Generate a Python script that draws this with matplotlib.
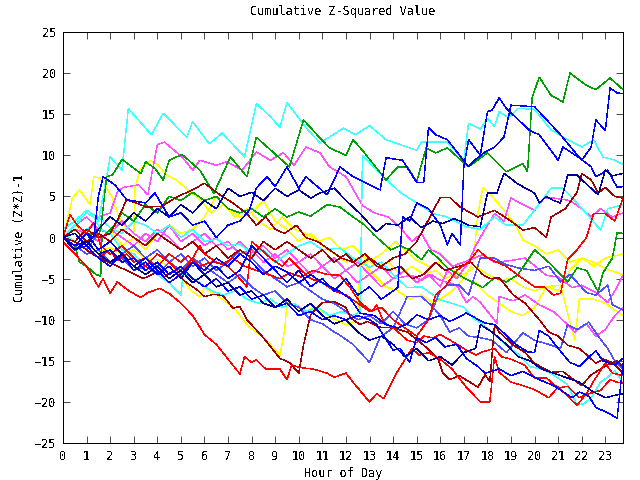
import matplotlib
matplotlib.use("Agg")
import matplotlib.pyplot as plt

# ---- data: (hour, cumulative value) ----
green_top = [(0,0),(0.5,-1),(1,0.5),(1.5,0.2),(1.6,1),(1.85,7.4),(2.1,7.6),(2.5,9.5),(3.3,7.8),(3.5,9.2),(3.9,8.4),(4.25,7),(4.5,9.4),(5.05,10.1),(5.8,8.2),(6.4,5.4),(7.1,9.8),(7.8,7.4),(8.2,12.2),(9.6,8.6),(10.2,14.3),(10.9,12.1),(11.3,10.9),(12,10),(12.3,11.9),(12.7,10.6),(13.7,7),(14.2,8.6),(14.6,8.6),(15,6.8),(15.4,10.9),(15.8,10.3),(16.3,10.9),(17.2,8.6),(18,10.3),(18.8,8),(19.5,9),(19.7,8),(19.9,17.1),(20.2,19.5),(20.7,17.3),(21.2,16.5),(21.5,20),(22.2,18.5),(22.6,18),(23.2,19.4),(23.75,18)]
cyan_top = [(0,0.5),(0.5,-0.5),(1,1),(1.5,2),(1.7,5),(2,9.8),(2.5,8.2),(2.77,15.7),(3.75,12.5),(4.25,15.1),(5.25,12.2),(5.5,14.1),(6.2,11.4),(6.75,12.7),(7.7,9.8),(8.2,16.3),(8.8,14.7),(9.2,13.4),(9.5,16.4),(10.3,13.4),(10.9,11.5),(11.9,13.3),(12.4,12.5),(13,13.6),(13.7,11.9),(14.2,11.4),(15,10.6),(15.2,11.6),(16.3,11.6),(17,9.4),(17.2,13.9),(17.7,13.2),(18,14.5),(18.3,13.5),(18.5,15.3),(18.9,14.6),(19.3,15.7),(20,15.6),(20.7,13.1),(21.4,11.9),(22,11),(22.5,11.9),(22.9,9.8),(23.3,9.5),(23.75,8.9)]
navy_top = [(0,0),(0.5,-1),(1,0.5),(1.3,0),(1.5,5),(1.7,7.4),(2.2,6.4),(2.7,4.6),(3.5,4.2),(3.9,5.4),(4.5,2.5),(5,3),(5.5,1.5),(6,2),(6.5,0),(7,1.5),(7.5,2),(7.9,3.3),(8.2,6),(8.65,7.4),(9,6.2),(9.5,8.6),(10,6),(10.3,7.4),(11.2,5.2),(11.75,8.6),(12.3,7.4),(13.45,5.8),(13.7,9.7),(14.4,9.4),(15,6.7),(15.3,6.7),(15.5,13.4),(15.8,12.5),(16.3,11.9),(17.2,8.6),(17.5,9.5),(17.9,10.4),(18.3,11),(18.7,12.2),(19,16.1),(20,15.9),(21.1,12.5),(22,9.4),(22.4,11),(22.6,14.3),(23,13),(23.2,18.2),(23.5,17.6),(23.75,17.5)]
blue_a = [(0,0),(0.5,-1.5),(1,-1),(1.5,-2.5),(2,-3.5),(2.5,-2),(3,-4),(3.5,-3),(4,-4.5),(4.5,-3.5),(5,-5),(5.5,-3),(6,-4.5),(6.5,-3.5),(7,-5),(7.5,-4),(8,-1),(8.5,-2.5),(9,-4),(9.5,-5.5),(10,-4),(10.5,-6),(11,-5),(11.5,-6.5),(12,-5),(12.5,-7),(13,-6),(13.5,-7.5),(14.2,-6.1),(14.4,2.5),(14.7,2),(15,4.2),(15.5,3.5),(16,1.5),(16.3,-0.9),(16.5,0.5),(16.85,-0.9),(17,8.6),(17.2,11.9),(17.7,10),(18,15.3),(18.2,15.5),(18.5,17),(18.8,15.7),(19.8,13),(20.2,12.5),(21,9.4),(21.2,11),(21.9,9.7),(22.4,8.6),(22.6,7.4),(23.1,8.2),(23.5,6.1),(23.75,6.2)]
blue_b = [(0,0),(0.5,0.5),(1,-1),(1.5,1),(2,2.5),(2.5,1.5),(3,3),(3.5,2),(4,3.5),(4.5,2.5),(5,4),(5.5,3),(6,4.5),(6.5,3.5),(7,6),(7.5,5),(8,5.5),(8.5,4.5),(9,6),(9.5,5),(10,5.8),(10.5,4.8),(10.9,5.4),(11.5,6),(12,4.5),(12.6,2.9),(13.3,0.7),(13.7,1.7),(14.2,1.5),(14.7,2.5),(15.2,1.2),(15.7,2),(16.1,1.7),(16.6,2.3),(17.2,1.5),(17.7,1.3),(18,5.4),(18.4,5.4),(18.7,7.8),(19.3,6.5),(20,5.4),(20.2,4.2),(20.5,5),(20.8,4.5),(21.1,4.2),(21.4,7.6),(21.8,7.6),(22.2,6.5),(22.7,5.2),(23,8.2),(23.3,7.5),(23.75,7.8)]
blue_low = [(0,0),(0.5,-1),(1,-0.5),(1.5,-2),(2,-1.5),(2.5,-3),(3,-2.5),(3.5,-4),(4,-3),(4.5,-4.5),(5,-3.5),(5.5,-5),(6,-6),(6.5,-5),(7,-6.5),(7.5,-6),(8,-7.5),(8.5,-7),(9,-8.5),(9.5,-8),(10,-9.5),(10.5,-9),(11,-10),(11.5,-9.5),(12,-10),(12.5,-9.5),(13,-10),(13.3,-10.6),(14,-13.7),(14.3,-13.5),(14.7,-15.2),(15,-12.2),(15.4,-12.8),(15.8,-12.2),(16.2,-13.3),(16.7,-13),(17.1,-14.7),(17.6,-15.7),(17.9,-16.5),(18.5,-16),(19,-16.8),(19.5,-16.3),(20.2,-17.3),(20.8,-18),(21.6,-19.5),(21.9,-18.8),(22.3,-19.3),(22.6,-20.7),(23.1,-21.3),(23.5,-22),(23.75,-15.3)]
red_low = [(0,-0.5),(0.5,-2),(1,-3.5),(1.5,-6),(1.7,-5),(2,-6.8),(2.3,-5.4),(2.8,-6.5),(3.3,-7.3),(3.6,-6.7),(4.1,-6.2),(4.5,-6.8),(5,-8),(5.5,-9.5),(6,-11.8),(6.5,-13),(7,-14.8),(7.5,-16.6),(7.7,-14.5),(8,-15.2),(8.2,-14.9),(8.6,-16),(9.2,-16),(9.5,-17.3),(9.7,-15.5),(10,-15.8),(10.6,-16),(11.2,-16.5),(11.5,-17),(12,-16.5),(12.3,-17.6),(13,-20),(13.3,-19),(13.6,-19.6),(14.1,-16.7),(14.8,-13.5),(15.1,-14.3),(15.5,-14),(16,-14.8),(16.5,-16),(17.1,-18.2),(17.7,-20),(18.1,-20),(18.3,-14.5),(18.5,-16.4),(19,-17.6),(19.5,-18),(20,-18.5),(20.6,-19.5),(21,-18.2),(21.8,-20.4),(22.2,-19),(22.5,-17.5),(23,-15.3),(23.3,-16.5),(23.75,-16.8)]
darkred_v = [(0,0),(0.5,-0.5),(1,-1.5),(1.3,-2.1),(2,-3.1),(2.7,-4),(3.4,-5),(4,-4.2),(4.3,-4.8),(4.7,-4),(5.2,-5.4),(5.7,-6.4),(6,-7.2),(6.4,-6.9),(6.8,-7.1),(7.2,-8.6),(7.5,-8.4),(7.8,-10),(8.5,-12.2),(9.2,-14.7),(9.6,-15.2),(10,-16.5),(10.2,-13.1),(10.5,-9.4),(11,-7.9),(11.5,-7.8),(12,-8.5),(12.2,-9.8),(12.6,-10.6),(12.9,-10.2),(13.4,-10.9),(14,-11),(14.6,-11.5),(15.3,-13.1),(15.9,-14.7),(16.1,-16.4),(16.4,-17.3),(16.8,-16.8),(17.6,-18.2),(17.9,-16.7),(18.1,-17.5),(18.3,-10.6),(18.5,-11.5),(19.1,-13.1),(19.6,-14),(20,-15.3),(20.7,-16.4),(21.2,-16.3),(21.8,-17.6),(22,-18),(22.4,-16.7),(22.8,-16),(23.1,-15.5),(23.5,-15),(23.75,-15.8)]
yellow_v = [(0,0),(0.5,-1),(1,-0.5),(1.5,-1.8),(2,-1.2),(2.5,-2),(3,-1.5),(3.5,-2.5),(4,-2.7),(4.5,-3.5),(5,-4.6),(5.4,-6.4),(5.8,-7.2),(6,-6.1),(6.7,-7.4),(7.2,-8.4),(7.9,-10.9),(8.5,-12.1),(9.2,-14.3),(9.4,-11.3),(9.5,-7.9),(9.8,-8.2),(10.3,-9.1),(10.6,-8.5),(11.2,-9.4),(12,-10.6),(12.3,-10.3),(12.5,-9.1),(12.6,-3.4),(13.1,-2.7),(13.5,-2),(14.1,-0.5),(14.5,-1.5),(15,-2.8),(15.5,-3.5),(16,-3),(16.5,-4),(17,-4.5),(17.5,-3.5),(18,-4.5),(18.5,-5.2),(19,-5),(19.5,-6),(20,-6.5),(20.5,-6),(21.1,-5.8),(21.7,-12.5),(21.9,-7.5),(22.5,-7.5),(23,-8),(23.75,-9.5)]
yellow_up = [(0,0),(0.4,4.8),(0.7,5.8),(1.15,4),(1.3,7.4),(1.6,7.2),(1.9,5.8),(2.1,4.8),(2.3,3.1),(2.5,1.7),(3,0.5),(3.05,6.1),(3.3,8.4),(3.7,9.4),(4,8.9),(4.4,7.6),(4.8,7),(5.3,5.8),(5.8,4.6),(6.3,3),(6.8,4),(7.3,2.5),(7.8,3.5),(8.3,2),(8.8,1),(9.3,2.5),(9.8,1),(10.3,0.5),(10.8,-0.5),(11.3,0),(11.8,-1.5),(12.3,-1),(12.8,-2.5),(13.3,-3.5),(13.8,-3),(14.3,-4.5),(14.8,-3.5),(15.3,-4.5),(15.8,-4),(16.2,-5),(16.5,-4.5),(17,-5),(17.4,-3),(17.6,3),(17.8,6.1),(18.2,5),(18.8,3),(19.2,1.5),(19.5,-0.3),(20,-1),(20.5,-2),(21,-1.5),(21.5,-3),(22,-2.5),(22.5,-3.5),(23,-2.5),(23.75,-2)]
yellow_mid = [(0,0),(0.5,1.5),(1,0.5),(1.5,-0.5),(2,1),(2.5,-1),(3,0),(3.5,-1.5),(4,0.5),(4.5,1.5),(5,0.5),(5.5,1),(6,2.5),(6.5,5),(7,3.5),(7.5,2.5),(8,3),(8.5,4.5),(9,2),(9.5,1),(10,-0.5),(10.5,0.5),(11,-1),(11.5,-1.9),(12,-3),(12.5,-2.5),(13,-4),(13.7,-6),(14.2,-6.5),(14.7,-7.5),(15.2,-7),(15.7,-8),(16,-7.5),(16.5,-6.5),(17,-5),(17.5,-5.5),(18,-7),(18.5,-8),(19,-9),(19.5,-9.5),(20,-8.5),(20.5,-6),(21,-6.5),(21.5,-4),(22,-2.5),(22.5,-3),(23,-3.8),(23.75,-4.5)]
magenta_top = [(0,0),(0.5,1),(1,0.5),(1.5,2.5),(2,3),(2.3,5.5),(2.55,6.1),(3.2,6.4),(3.6,5.2),(4,11.3),(4.3,11.6),(5.05,9.8),(5.5,8.2),(5.8,9.4),(6.5,8.8),(6.95,9.2),(7.6,8.2),(8.2,10.4),(8.8,9.4),(9.35,10.3),(9.8,8.8),(10.3,11),(10.9,10.3),(11.3,8.6),(12,7.4),(12.7,3.9),(13.2,3),(13.8,2.5),(14.3,1.2),(14.8,-0.5),(15.2,0.5),(15.6,-1.5),(16,-2),(16.5,-3.5),(17,-3),(17.8,-2.1),(18.3,-3),(19,-2.8),(19.6,-2.5),(20.5,-4.6),(21,-4.8),(21.6,-6.1),(22,-5.8),(22.6,-6.7),(23.1,-7.9),(23.4,-6.5),(23.75,-4.6)]
magenta_mid = [(0,0),(0.5,-1),(1,0.5),(1.5,-0.5),(2,1),(2.5,0),(3,-1),(3.5,0.5),(4,-0.5),(4.5,1.5),(5,-0.5),(5.5,0.5),(6,-1),(6.5,0),(7,-1.5),(7.5,-0.5),(8,-2),(8.5,-1),(9,-2.5),(9.5,-1.5),(10,-3),(10.5,-2),(11,-3.5),(11.5,-2.5),(12,-4),(12.5,-3),(13,-4.5),(13.5,-3.5),(14,-5),(14.5,-4),(15,-5.5),(15.5,-4.5),(16,-6),(16.3,-4),(16.7,-5),(17.2,-3),(17.5,-1),(17.8,0.5),(18.3,2.9),(18.7,2),(19,4.8),(19.5,4),(20,3.3),(20.4,4.8),(20.8,4.8),(21.5,4.5),(22,3.5),(22.4,2.5),(22.8,3.5),(23.3,2.5),(23.75,3)]
magenta_low = [(0,0),(0.5,1.5),(1,2.5),(1.5,1),(2,0.5),(2.5,2),(3,0.5),(3.5,-0.5),(4,1),(4.5,0),(5,-1.5),(5.5,-0.5),(6,0.5),(6.5,-1),(7,-0.5),(7.5,-2),(8,-1.5),(8.5,-3),(9,-2),(9.5,-3.5),(10,-3),(10.5,-4.5),(11,-3.5),(11.5,-5),(12,-4),(12.5,-5.5),(13,-4.5),(13.5,-6),(14,-5),(14.8,-4.6),(15.2,-5.2),(15.6,-4.5),(16,-5.2),(16.7,-5.8),(17.1,-7.9),(17.4,-7.2),(17.7,-7.9),(18.4,-10.4),(18.5,-7.2),(19.1,-7.7),(19.6,-7),(20.2,-8.2),(20.8,-9),(21.4,-10.6),(21.7,-11.5),(22.2,-10.5),(22.6,-12),(23,-11.2),(23.4,-9.5),(23.75,-8.5)]
cyan_mid = [(0,0),(0.5,1.5),(1,3),(1.3,2.5),(1.6,1),(2,0.5),(2.5,-1.5),(3,-2),(3.5,-3.5),(4,-4.5),(4.5,-5.5),(5,-7),(5.1,-4.2),(5.8,-5.5),(6.3,-6.5),(6.8,-7),(7.3,-6.5),(7.8,-7.5),(8.3,-8),(8.8,-7.5),(9.3,-8.5),(9.8,-8),(10.3,-9),(10.8,-8.5),(11.3,-9.5),(11.8,-9),(12.3,-9.5),(12.6,-9),(12.7,10),(13.3,8.2),(13.8,6.8),(14.3,5.5),(15,4.2),(15.7,2.9),(16.3,2.5),(17.1,1.3),(17.7,1),(18.3,2.5),(18.8,1.5),(19.5,1.5),(20.1,3.7),(20.7,6),(21.2,6),(21.7,4.5),(22.2,2.9),(22.8,0.9),(23.1,3.5),(23.75,4)]
cyan_low = [(0,1),(0.5,2),(1,3.3),(1.5,2.5),(2,1.2),(2.5,0.5),(3,2),(3.5,1.5),(4,0.5),(4.5,1.5),(5,0),(5.5,1),(6,-0.5),(6.5,-0.2),(7,-1),(7.5,-0.8),(8,-2),(8.5,-1.5),(9,-3),(9.5,-2),(10,-1),(10.5,-0.5),(11,-1.5),(11.75,-1.3),(12.3,-2.5),(13,-3.6),(13.5,-3),(14,-4.5),(14.6,-6.1),(15.2,-6),(15.6,-6.8),(16,-7.6),(16.5,-8),(17,-8.5),(17.4,-9.8),(17.8,-10.6),(18.3,-11.8),(18.8,-13.1),(19.3,-14.2),(19.8,-15.7),(20.3,-16),(20.8,-16.7),(21.4,-17.9),(21.8,-20.4),(22.1,-20.2),(22.4,-19.5),(22.8,-17.6),(23.1,-17),(23.4,-16.2),(23.75,-17.7)]
darkred_mid = [(0,0),(0.5,1),(1,-0.5),(1.5,0.5),(2,-0.5),(2.5,1),(3,0),(3.5,-1),(4,0.5),(4.5,-0.5),(5,-1.5),(5.5,-0.5),(6,-2),(6.5,-1),(7,-2.5),(7.5,-1.5),(8,-2.5),(8.5,-0.5),(9,-1.5),(9.5,-0.5),(10,-1.5),(10.5,-2.5),(11,-1.5),(11.5,-3),(12,-2),(12.5,-3.5),(13,-2.5),(13.5,-3.5),(14,-2.5),(14.5,-2),(15,-0.5),(15.6,2.7),(16,4.9),(16.4,4.9),(16.8,3.8),(17.1,3.3),(17.6,2.5),(18.3,3.3),(19,2),(19.5,0.9),(20,1.2),(20.5,0),(20.7,2.5),(21.3,3.5),(21.8,5.5),(22,7.8),(22.4,7),(22.7,5.4),(23,6.1),(23.4,5),(23.75,4.8)]
darkred_up = [(0,0),(0.5,-0.5),(1,1),(1.5,0),(2,0.5),(2.3,2.1),(2.7,4.6),(3.1,4.2),(3.55,3.7),(4.2,3.8),(4.8,4.9),(5.5,5.8),(6,6.6),(6.6,5.3),(7.2,4.2),(7.8,2.9),(8.2,1.5),(8.6,2.5),(9,1),(9.4,0.5),(9.9,1.5),(10.3,0),(10.8,-0.5),(11.3,-1.5),(11.8,-2.5),(12.3,-3),(12.8,-2),(13.3,-3.5),(13.8,-4),(14.3,-3.5),(14.8,-5),(15.3,-4.5),(15.8,-3),(16.2,-4),(16.8,-3.5),(17.3,-3),(17.8,-4.5),(18.1,-5),(18.5,-4.9),(19.1,-7),(19.6,-8),(20.2,-10),(20.6,-11.5),(21,-12),(21.4,-13.1),(21.9,-13.5),(22.3,-14.5),(22.6,-15.3),(22.9,-14.8),(23.3,-15.2),(23.75,-16.5)]
red_mid = [(0,0),(0.3,2.8),(0.6,1.5),(1,0.5),(1.3,1.8),(1.6,-1),(2,-2),(2.5,-1),(3,-2.5),(3.5,-3.5),(4,-2),(4.5,-3),(5,-4.5),(5.5,-2.5),(5.8,-1),(6,-2),(6.5,-3),(7,-3.5),(7.5,-5),(7.8,-6),(8,-0.5),(8.3,-1.2),(8.8,-2.5),(9.3,-3.5),(9.6,-2.5),(10,-3.7),(10.5,-5),(11,-5.5),(11.5,-6.5),(12,-7),(12.5,-8),(13,-9),(13.5,-8.5),(14,-10),(14.5,-11),(15,-12),(15.5,-10),(15.8,-7),(16.2,-6),(16.7,-4),(17.2,-3),(17.6,-1.5),(18,-2.5),(18.4,-3),(18.8,-3.5),(19.4,-4.8),(20,-6),(20.4,-6),(20.8,-7),(21.1,-6.8),(21.4,-2.7),(21.8,-1.5),(22.2,0),(22.5,2.9),(23,2.9),(23.4,2),(23.75,4.8)]
red_low2 = [(0,0),(0.5,-1.5),(1,-1),(1.5,-2.5),(2,-1.5),(2.3,-2.8),(2.7,-2),(3,-3),(3.5,-2.5),(4,-3.5),(4.5,-2),(5,-3),(5.3,-2.2),(5.8,-3.5),(6.3,-3),(6.8,-3.2),(7.2,-2.5),(7.7,-3.5),(8.2,-4),(8.7,-4.5),(9.2,-5),(9.6,-4.3),(10.1,-4.8),(10.6,-4),(11.2,-4.5),(11.75,-4.6),(12.2,-6.2),(12.6,-7.9),(13.1,-9),(13.3,-8.2),(13.6,-10.3),(14.1,-11.2),(14.6,-12.5),(15,-12.8),(15.3,-12),(15.7,-12.2),(16,-11.8),(16.6,-12.8),(17.1,-13.7),(17.5,-14.3),(17.8,-13.9),(18.3,-13.5),(18.6,-14.5),(19.1,-14.9),(19.6,-15.6),(20,-17.1),(20.5,-17.1),(21,-18.3),(21.4,-18.1),(21.9,-19.5),(22.3,-19),(22.8,-18.6),(23.2,-17.3),(23.5,-17.6),(23.75,-17.7)]
green_mid = [(0,0),(0.5,-1),(0.7,-3),(1,-3.5),(1.4,-4.5),(1.6,-4.7),(1.65,0),(2.2,1.5),(2.5,3),(3,2),(3.5,4),(4,3),(4.5,5),(5,4.5),(5.5,5.5),(6,4.5),(6.5,5),(7,3.5),(7.5,3),(8,3.5),(8.5,2.5),(9,3.5),(9.5,2.5),(10,3.1),(10.5,2.6),(11.2,4),(11.75,3.7),(12.3,2.5),(12.8,1.5),(13.2,0.3),(13.9,-1.5),(14.3,-1),(14.7,-1.5),(15.2,-2.7),(15.5,-1.5),(15.9,-2.5),(16.3,-3.7),(17,-4.9),(17.8,-6.1),(18.3,-4.9),(18.8,-5.4),(19.3,-4.5),(20,-1.5),(20.4,-2.5),(20.7,-3.3),(21.4,-5.4),(21.8,-3.7),(22.2,-4),(22.7,-6.6),(22.9,-4.3),(23.3,-2.5),(23.5,0.6),(23.75,0.5)]
lblue_mid = [(0,0),(0.5,-0.5),(1,-1.5),(1.5,0.5),(2,-0.5),(2.5,-2),(3,-1),(3.5,-2.5),(4,-1.5),(4.5,-3),(5,-2),(5.5,-3.5),(6,-2.5),(6.5,-4),(7,-3),(7.5,-1.5),(8,-2.5),(8.5,-4),(9,-5),(9.5,-6),(10,-5.5),(10.5,-6.5),(11,-7.5),(11.5,-8),(12,-9),(12.5,-10),(13,-9.5),(13.5,-10.5),(14,-9),(14.5,-10.5),(15,-11),(15.5,-10),(16,-6.5),(16.3,-5.8),(16.8,-5.8),(17.2,-7),(17.7,-2.5),(18.3,-2.5),(18.7,-3.2),(19.3,-3.7),(20,-4),(20.6,-3.5),(21.1,-5.4),(21.5,-4.5),(22.2,-6.7),(22.6,-7),(23.1,-5.8),(23.3,-8.2),(23.75,-8.8)]
lblue_low = [(0,0),(0.5,-1),(1,-2),(1.5,-1.5),(2,-3),(2.5,-2.5),(3,-4),(3.5,-3.5),(4,-4.5),(4.5,-3),(5,-4),(5.5,-2.5),(6,-3.5),(6.5,-4.5),(7,-5.5),(7.5,-4.5),(8,-6),(8.5,-7),(9,-6.5),(9.5,-8),(10,-8.5),(10.5,-10),(11,-10.5),(11.5,-11.5),(11.75,-11.9),(12.3,-13),(13,-15.2),(13.45,-12.1),(14,-11),(14.3,-9.1),(14.6,-7.2),(15.2,-7.2),(15.6,-8.2),(16,-9.5),(16.4,-11.5),(16.8,-11),(17.2,-12),(17.7,-12.2),(18.2,-12.5),(18.8,-14),(19.5,-11.6),(20,-12.5),(20.6,-13),(21.1,-13.5),(21.4,-10.6),(21.8,-11.2),(22.3,-10.3),(22.7,-12),(23.1,-13.5),(23.4,-15),(23.75,-16)]
blue_mid = [(0,0),(0.5,-1),(1,0.5),(1.5,-1.5),(2,-0.5),(2.5,-2),(3,-3.5),(3.5,-2.5),(4,-4),(4.5,-5.5),(5,-4.5),(5.5,-3),(6,-4),(6.5,-2.5),(7,-3.5),(7.5,-2),(8,-3),(8.5,-4.5),(9,-3.5),(9.5,-4.2),(10,-5.5),(10.5,-4.5),(11,-5.5),(11.75,-6.6),(12.2,-7.5),(12.6,-9.2),(13.2,-9.5),(13.7,-10.6),(14.2,-11),(14.6,-10.5),(15,-9.4),(15.5,-10),(16,-9.5),(16.4,-10.2),(16.7,-9.8),(17.1,-9.2),(17.5,-9.8),(17.9,-10.4),(18.3,-10.6),(18.8,-11.9),(19.2,-13),(19.7,-13.9),(20,-14),(20.2,-11.3),(20.6,-12),(21,-13.5),(21.5,-15.2),(21.9,-15.7),(22.4,-14.3),(22.6,-13.8),(22.9,-15),(23.4,-15.5),(23.75,-14.7)]
navy_low = [(0,0),(0.5,-1.5),(1,-0.5),(1.5,-2),(2,-3),(2.5,-2),(3,-3.5),(3.5,-4.5),(4,-3.5),(4.5,-5),(5,-4),(5.5,-5.5),(6,-4.5),(6.5,-6),(7,-5.5),(7.5,-7),(8,-6.5),(8.5,-8),(9,-8.5),(9.5,-7.5),(10,-9),(10.5,-8),(11,-9.5),(11.5,-10.5),(12,-10),(12.5,-11.5),(13,-12.5),(13.5,-12),(14,-13),(14.5,-14.5),(15,-13.5),(15.5,-15),(16,-14.5),(16.5,-15.5),(17,-14),(17.5,-13.5),(17.7,-10.6),(18.2,-11.5),(18.8,-13),(19.3,-14.5),(19.8,-15),(20.3,-16),(20.8,-16.5),(21.3,-17),(21.9,-17.6),(22.5,-18.8),(23,-19.5),(23.4,-19.2),(23.75,-19)]

x_ticks = list(range(0, 24))
y_ticks = list(range(-25, 30, 5))

RED, DRED, GREEN = '#ff0000', '#a00000', '#00a000'
BLUE, NAVY, LBLUE = '#0000ff', '#0000a0', '#5050ff'
CYAN, MAG, YEL = '#40ffff', '#ff50ff', '#ffff00'

series = [
    (yellow_mid, YEL), (yellow_up, YEL), (yellow_v, YEL),
    (magenta_low, MAG), (magenta_mid, MAG), (magenta_top, MAG),
    (cyan_low, CYAN), (cyan_mid, CYAN), (cyan_top, CYAN),
    (lblue_mid, LBLUE), (lblue_low, LBLUE),
    (green_mid, GREEN), (green_top, GREEN),
    (darkred_up, DRED), (darkred_mid, DRED), (darkred_v, DRED),
    (red_low2, RED), (red_mid, RED), (red_low, RED),
    (blue_mid, BLUE), (blue_low, BLUE), (blue_a, BLUE), (blue_b, NAVY),
    (navy_low, NAVY), (navy_top, BLUE),
]

plt.rcParams['font.family'] = ['DejaVu Sans Mono']
plt.rcParams['text.antialiased'] = False
fig = plt.figure(figsize=(6.4, 4.8), dpi=100)
ax = fig.add_axes([63/640, 1-443/480, 560/640, 411/480])
for pts, col in series:
    hs = [p[0] for p in pts]
    vs = [p[1] for p in pts]
    ax.plot(hs, vs, color=col, lw=0.3, antialiased=False)

ax.set_xlim(0, 23.75)
ax.set_ylim(-25, 25)
ax.set_xticks(x_ticks)
ax.set_yticks(y_ticks)
ax.tick_params(direction='in', length=5, width=0.5, top=True, right=True,
               labelsize=8.5, pad=5)
for s in ax.spines.values():
    s.set_linewidth(0.5)
    s.set_antialiased(False)
ax.set_title('Cumulative Z-Squared Value', fontsize=8.5, pad=12)
ax.set_xlabel('Hour of Day', fontsize=8.5, labelpad=3)
ax.set_ylabel('Cumulative (Z*Z)-1', fontsize=8.5, labelpad=6)
fig.savefig('out.png', dpi=100)
